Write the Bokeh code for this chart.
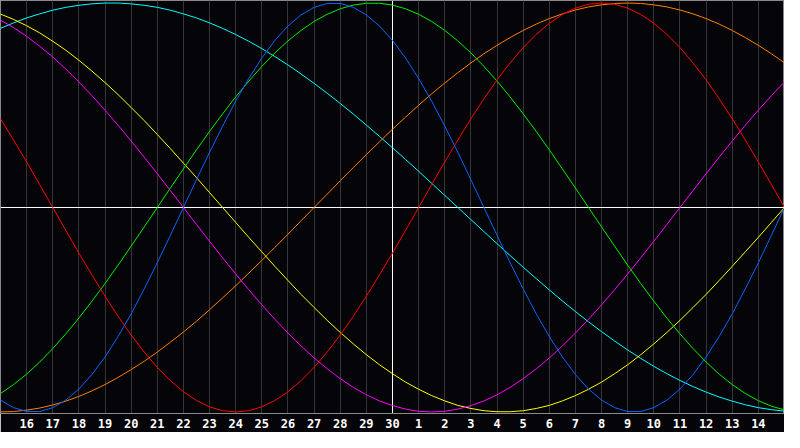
from bokeh.plotting import figure
from bokeh.models import FixedTicker, Span
from bokeh.embed import file_html
from bokeh.resources import INLINE

# Day labels along the bottom (index 0 .. 30)
day_labels = ["15", "16", "17", "18", "19", "20", "21", "22", "23", "24", "25", "26", "27", "28", "29", "30",
              "1", "2", "3", "4", "5", "6", "7", "8", "9", "10", "11", "12", "13", "14", "15"]

# Cycle values (-1 .. 1): one value at each day, one at each mid-day
physical_day = [-0.942, -0.998, -0.979, -0.888, -0.731, -0.520, -0.270, 0.000, 0.270, 0.520,
                0.731, 0.888, 0.979, 0.998, 0.942, 0.817, 0.631, 0.398, 0.136, -0.136,
                -0.398, -0.631, -0.817, -0.942, -0.998, -0.979, -0.888, -0.731, -0.520, -0.270, 0.000]
physical_mid = [-0.979, -0.998, -0.942, -0.817, -0.631, -0.398, -0.136, 0.136, 0.398, 0.631,
                0.817, 0.942, 0.998, 0.979, 0.888, 0.731, 0.520, 0.270, 0.000, -0.270,
                -0.520, -0.731, -0.888, -0.979, -0.998, -0.942, -0.817, -0.631, -0.398, -0.136]

emotional_day = [0.434, 0.223, 0.000, -0.223, -0.434, -0.624, -0.782, -0.901, -0.975, -1.000,
                 -0.975, -0.901, -0.782, -0.624, -0.434, -0.223, 0.000, 0.223, 0.434, 0.624,
                 0.782, 0.901, 0.975, 1.000, 0.975, 0.901, 0.782, 0.624, 0.434, 0.223, 0.000]
emotional_mid = [0.330, 0.112, -0.112, -0.330, -0.532, -0.707, -0.847, -0.944, -0.994, -0.994,
                 -0.944, -0.847, -0.707, -0.532, -0.330, -0.112, 0.112, 0.330, 0.532, 0.707,
                 0.847, 0.944, 0.994, 0.994, 0.944, 0.847, 0.707, 0.532, 0.330, 0.112]

intellectual_day = [-0.910, -0.815, -0.690, -0.541, -0.372, -0.189, 0.000, 0.189, 0.372, 0.541,
                    0.690, 0.815, 0.910, 0.972, 0.999, 0.990, 0.945, 0.866, 0.756, 0.618,
                    0.458, 0.282, 0.095, -0.095, -0.282, -0.458, -0.618, -0.756, -0.866, -0.945, -0.990]
intellectual_mid = [-0.866, -0.756, -0.618, -0.458, -0.282, -0.095, 0.095, 0.282, 0.458, 0.618,
                    0.756, 0.866, 0.945, 0.990, 0.999, 0.972, 0.910, 0.815, 0.690, 0.541,
                    0.372, 0.189, 0.000, -0.189, -0.372, -0.541, -0.690, -0.815, -0.910, -0.972]

intuitive_day = [0.916, 0.837, 0.736, 0.614, 0.476, 0.325, 0.165, 0.000, -0.165, -0.325,
                 -0.476, -0.614, -0.736, -0.837, -0.916, -0.969, -0.997, -0.997, -0.969, -0.916,
                 -0.837, -0.736, -0.614, -0.476, -0.325, -0.165, 0.000, 0.165, 0.325, 0.476, 0.614]
intuitive_mid = [0.880, 0.789, 0.677, 0.547, 0.402, 0.246, 0.083, -0.083, -0.246, -0.402,
                 -0.547, -0.677, -0.789, -0.880, -0.946, -0.986, -1.000, -0.986, -0.946, -0.880,
                 -0.789, -0.677, -0.547, -0.402, -0.246, -0.083, 0.083, 0.246, 0.402, 0.547]

aesthetic_day = [0.946, 0.889, 0.813, 0.720, 0.611, 0.489, 0.357, 0.217, 0.073, -0.073,
                 -0.217, -0.357, -0.489, -0.611, -0.720, -0.813, -0.889, -0.946, -0.983, -0.999,
                 -0.994, -0.968, -0.920, -0.854, -0.769, -0.667, -0.552, -0.425, -0.288, -0.146, 0.000]
aesthetic_mid = [0.920, 0.854, 0.769, 0.667, 0.552, 0.425, 0.288, 0.146, 0.000, -0.146,
                 -0.288, -0.425, -0.552, -0.667, -0.769, -0.854, -0.920, -0.968, -0.994, -0.999,
                 -0.983, -0.946, -0.889, -0.813, -0.720, -0.611, -0.489, -0.357, -0.217, -0.073]

awareness_day = [-1.000, -0.991, -0.966, -0.924, -0.866, -0.793, -0.707, -0.609, -0.500, -0.383,
                 -0.259, -0.131, 0.000, 0.131, 0.259, 0.383, 0.500, 0.609, 0.707, 0.793,
                 0.866, 0.924, 0.966, 0.991, 1.000, 0.991, 0.966, 0.924, 0.866, 0.793, 0.707]
awareness_mid = [-0.998, -0.981, -0.947, -0.897, -0.831, -0.752, -0.659, -0.556, -0.442, -0.321,
                 -0.195, -0.065, 0.065, 0.195, 0.321, 0.442, 0.556, 0.659, 0.752, 0.831,
                 0.897, 0.947, 0.981, 0.998, 0.998, 0.981, 0.947, 0.897, 0.831, 0.752]

spiritual_day = [0.876, 0.927, 0.965, 0.989, 1.000, 0.996, 0.979, 0.947, 0.903, 0.846,
                 0.777, 0.697, 0.607, 0.509, 0.403, 0.292, 0.177, 0.059, -0.059, -0.177,
                 -0.292, -0.403, -0.509, -0.607, -0.697, -0.777, -0.846, -0.903, -0.947, -0.979, -0.996]
spiritual_mid = [0.903, 0.947, 0.979, 0.996, 1.000, 0.989, 0.965, 0.927, 0.876, 0.813,
                 0.738, 0.653, 0.559, 0.457, 0.348, 0.235, 0.118, 0.000, -0.118, -0.235,
                 -0.348, -0.457, -0.559, -0.653, -0.738, -0.813, -0.876, -0.927, -0.965, -0.989]

series = [
    (spiritual_day, spiritual_mid, "#00ffff"),
    (awareness_day, awareness_mid, "#ff8000"),
    (aesthetic_day, aesthetic_mid, "#ffff00"),
    (intuitive_day, intuitive_mid, "#ff00ff"),
    (intellectual_day, intellectual_mid, "#00f000"),
    (emotional_day, emotional_mid, "#ff0000"),
    (physical_day, physical_mid, "#0a64ff"),
]

days = list(range(len(day_labels)))


def interleave(day_vals, mid_vals):
    out = []
    for a, b in zip(day_vals, mid_vals):
        out.extend([a, b])
    out.append(day_vals[-1])
    return out


xs = interleave(days, [d + 0.5 for d in days[:-1]])

bg = "#050409"

p = figure(width=784, height=432, x_range=(0, 30), y_range=(-1.0076, 1.0124),
           output_backend="svg", toolbar_location=None, y_axis_location=None,
           min_border=0, min_border_bottom=19,
           background_fill_color=bg, border_fill_color=bg,
           outline_line_color="#8a8a8a", outline_line_width=1)

p.xgrid.ticker = FixedTicker(ticks=days)
p.xgrid.grid_line_color = "#363636"
p.xgrid.grid_line_width = 1
p.ygrid.visible = False

label_ticks = days[1:-1]
p.xaxis.ticker = FixedTicker(ticks=label_ticks)
p.xaxis.major_label_overrides = {i: day_labels[i] for i in label_ticks}
p.xaxis.axis_line_color = "#8a8a8a"
p.xaxis.major_tick_line_color = None
p.xaxis.minor_tick_line_color = None
p.xaxis.major_tick_out = 0
p.xaxis.major_tick_in = 0
p.xaxis.major_label_standoff = 5
p.xaxis.major_label_text_color = "#ffffff"
p.xaxis.major_label_text_font = "DejaVu Sans Mono"
p.xaxis.major_label_text_font_style = "bold"
p.xaxis.major_label_text_font_size = "12px"

p.add_layout(Span(location=15, dimension="height", line_color="#ffffff", line_width=1, level="underlay"))
p.add_layout(Span(location=0, dimension="width", line_color="#ffffff", line_width=1, level="underlay"))

for day_vals, mid_vals, color in series:
    p.line(xs, interleave(day_vals, mid_vals), line_color=color, line_width=1)

open("out.html", "w").write(file_html(p, INLINE))
